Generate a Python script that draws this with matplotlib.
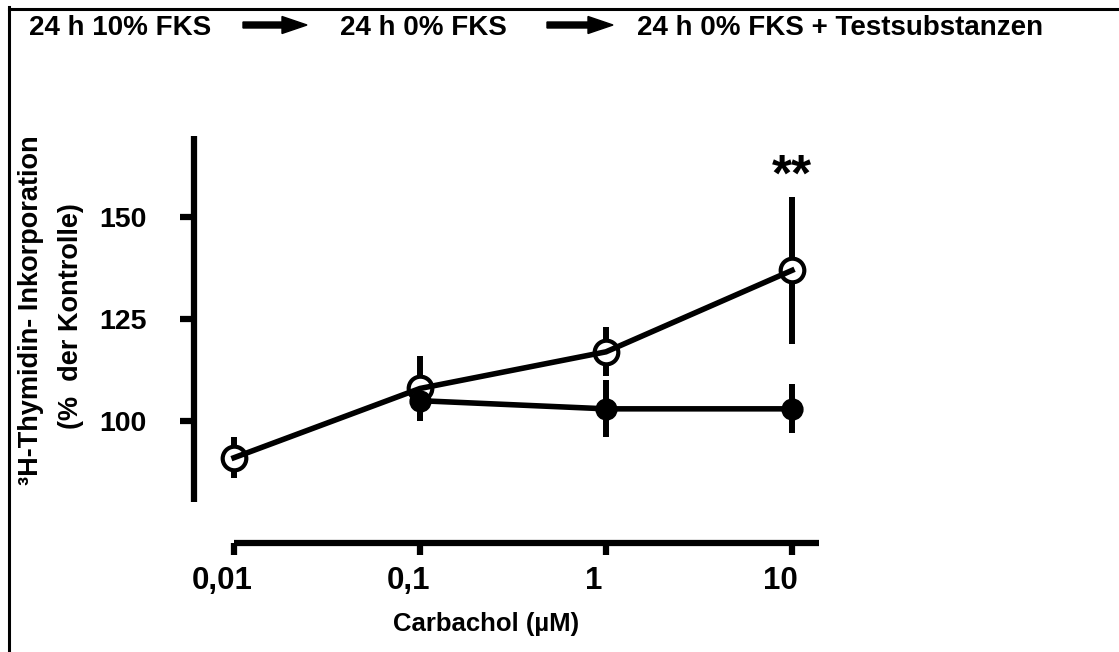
import matplotlib
matplotlib.use("Agg")
import matplotlib.pyplot as plt
from matplotlib.patches import FancyArrow
from matplotlib.lines import Line2D
from matplotlib.transforms import ScaledTranslation

# Werte (Mittelwert, Fehler) je Konzentration
conc_open = [0.01, 0.1, 1, 10]
mean_open = [91, 108, 117, 137]
err_open = [5, 8, 6, 18]

conc_filled = [0.1, 1, 10]
mean_filled = [105, 103, 103]
err_filled = [5, 7, 6]

x_ticks = [0.01, 0.1, 1, 10]
x_ticklabels = ["0,01", "0,1", "1", "10"]
y_ticks = [100, 125, 150]
y_ticklabels = ["100", "125", "150"]

schritte = ["24 h 10% FKS", "24 h 0% FKS", "24 h 0% FKS + Testsubstanzen"]

plt.rcParams['font.family'] = ['Liberation Sans', 'DejaVu Sans']
plt.rcParams['font.weight'] = 'bold'

W, H = 1119, 652
fig = plt.figure(figsize=(W / 100, H / 100), dpi=100)


def px(x, y):
    # Pixel (von oben links) -> Figurkoordinaten
    return x / W, 1 - y / H


# Achsenfläche: links bei x=194, unten bei y=543, oben bei y=136, rechts bei x=819
l, b = px(194, 543)
r, t = px(819, 136)
ax = fig.add_axes([l, b, r - l, t - b])
ax.set_xscale('log')
ax.set_xlim(10 ** (-2 - 40 / 186), 10 ** (1 + 27 / 186))
ax.set_ylim(100 - 122 / 4.074, 170)

lw = 4.5
for side in ['top', 'right']:
    ax.spines[side].set_visible(False)
ax.spines['left'].set_linewidth(lw)
ax.spines['bottom'].set_linewidth(lw)
ax.spines['left'].set_bounds(80, 170)
ax.spines['bottom'].set_bounds(0.01, ax.get_xlim()[1])
ax.spines['left'].set_capstyle('butt')
ax.spines['bottom'].set_capstyle('butt')

ax.set_xticks(x_ticks)
ax.set_xticklabels(x_ticklabels)
ax.xaxis.set_minor_locator(matplotlib.ticker.NullLocator())
ax.set_yticks(y_ticks)
ax.set_yticklabels(y_ticklabels)
ax.tick_params(axis='y', length=10, width=lw, pad=24, labelsize=20.5)
ax.tick_params(axis='x', length=8.3, width=lw, pad=8, labelsize=22.5)
for lab in ax.get_xticklabels():
    lab.set_fontweight('bold')
    lab.set_transform(lab.get_transform() + ScaledTranslation(-0.12, 0, fig.dpi_scale_trans))
for lab in ax.get_yticklabels():
    lab.set_fontweight('bold')

# Fehlerbalken
ax.errorbar(conc_open, mean_open, yerr=err_open, fmt='none', ecolor='black',
            elinewidth=4.3, capsize=0, zorder=1)
ax.errorbar(conc_filled, mean_filled, yerr=err_filled, fmt='none', ecolor='black',
            elinewidth=4.3, capsize=0, zorder=1)

# offene Kreise (weiß gefüllt), Linie darüber bis zur Mitte
ax.plot(conc_open, mean_open, 'o', ms=17, mfc='white', mec='black', mew=3, zorder=2)
ax.plot(conc_open, mean_open, '-', color='black', lw=4, zorder=3)

# gefüllte Kreise
ax.plot(conc_filled, mean_filled, '-', color='black', lw=4, zorder=4)
ax.plot(conc_filled, mean_filled, 'o', ms=14, mfc='black', mec='black', mew=2, zorder=5)

ax.text(10, 160, "**", ha='center', va='center', fontsize=37, fontweight='bold')

# Achsenbeschriftungen
fig.text(*px(486, 624), "Carbachol (µM)", ha='center', va='center', fontsize=18.5,
         fontweight='bold')
fig.text(*px(31, 310), "³H-Thymidin- Inkorporation", ha='center', va='center',
         rotation=90, fontsize=19.5, fontweight='bold')
fig.text(*px(71, 316), "(%  der Kontrolle)", ha='center', va='center',
         rotation=90, fontsize=19.5, fontweight='bold')

# Ablauf oben
fig.text(*px(29, 28), schritte[0], ha='left', va='center', fontsize=20, fontweight='bold')
fig.text(*px(340, 28), schritte[1], ha='left', va='center', fontsize=20, fontweight='bold')
fig.text(*px(637, 28), schritte[2], ha='left', va='center', fontsize=20, fontweight='bold')

for x0, x1 in [(243, 307), (547, 613)]:
    xa, ya = px(x0, 25)
    xb, _ = px(x1, 25)
    fig.add_artist(FancyArrow(xa, ya, xb - xa, 0, width=6 / H, head_width=17 / H,
                              head_length=25 / W, length_includes_head=True,
                              color='black', transform=fig.transFigure))

# Rahmen oben und links
fig.add_artist(Line2D([8.5 / W, 8.5 / W], [0, 1 - 7 / H], color='black', lw=2.2,
                      transform=fig.transFigure, solid_capstyle='projecting'))
fig.add_artist(Line2D([8.5 / W, 1], [1 - 8.5 / H, 1 - 8.5 / H], color='black', lw=2.2,
                      transform=fig.transFigure))

fig.savefig("out.png", dpi=100)
